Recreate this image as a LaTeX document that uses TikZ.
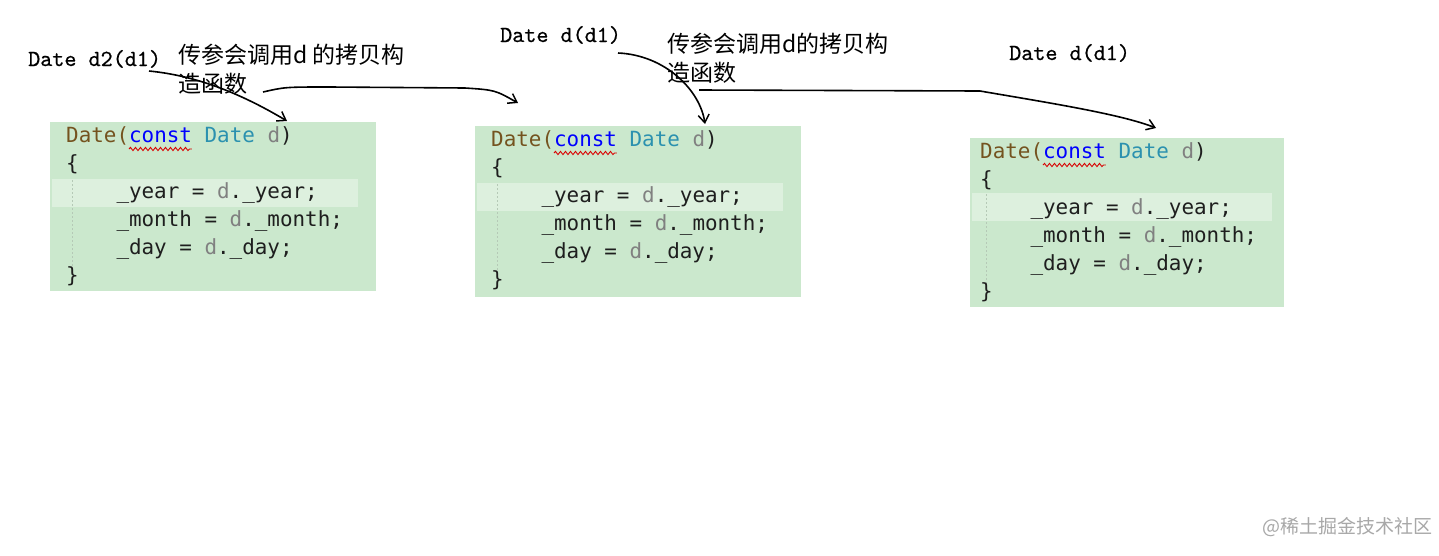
\documentclass[tikz,border=0pt]{standalone}
\usepackage{fontspec}
\newfontfamily\cjk{Noto Sans CJK SC}
\newfontfamily\codefont{DejaVu Sans Mono}
\newfontfamily\labfont[FakeBold=0.6]{lmmono10-regular.otf}
\usetikzlibrary{arrows.meta,decorations.pathmorphing}
\definecolor{codebg}{HTML}{CBE8CD}
\definecolor{codehl}{HTML}{DDF0DE}
\definecolor{cfn}{HTML}{74531F}
\definecolor{ckw}{HTML}{0000FF}
\definecolor{cty}{HTML}{2B91AF}
\definecolor{cprm}{HTML}{808080}
\definecolor{ctext}{HTML}{1E1E1E}
\definecolor{guidegray}{HTML}{B5C9B6}
\definecolor{wmgray}{HTML}{A8A8A8}
\newcommand\codebox[8]{%
\begin{scope}[shift={(#2,#3)}]
\fill[codebg] (0,0) rectangle (#4,#5);
\fill[codehl] (2,#6) rectangle (#7,#6+28);
\draw[guide] (#8+6,#6+1) -- (#8+6,150);
\node[code] (#1-l1) at (#8,20) {\textcolor{cfn}{Date(}\textcolor{ckw}{const} \textcolor{cty}{Date} \textcolor{cprm}{d})};
\draw[squiggle] ([xshift=62.9pt,yshift=-7pt]#1-l1.base west) -- ([xshift=125.8pt,yshift=-7pt]#1-l1.base west);
\node[code] (#1-l2) at (#8,48) {\{};
\node[code] (#1-l3) at (#8+50.3,76) {\_year = \textcolor{cprm}{d}.\_year;};
\node[code] (#1-l4) at (#8+50.3,104) {\_month = \textcolor{cprm}{d}.\_month;};
\node[code] (#1-l5) at (#8+50.3,132) {\_day = \textcolor{cprm}{d}.\_day;};
\node[code] (#1-l6) at (#8,160) {\}};
\end{scope}}
\begin{document}
\begin{tikzpicture}[x=1pt,y=-1pt,
  code/.style={anchor=base west,inner sep=0pt,text=ctext,font=\codefont\fontsize{20.9}{25}\selectfont},
  squiggle/.style={draw=red!85!black,line width=0.9pt,decorate,decoration={snake,amplitude=1.6pt,segment length=5pt}},
  guide/.style={draw=guidegray,line width=0.8pt,dash pattern=on 2pt off 2pt},
  lab/.style={anchor=base west,inner sep=0pt,font=\labfont\fontsize{23}{27}\selectfont},
  cnlab/.style={anchor=base west,inner sep=0pt,font=\cjk\fontsize{23}{27}\selectfont},
  hand/.style={line width=1.6pt,black,-{Straight Barb[length=8pt,width=11pt,line width=1.5pt]}}]
\useasboundingbox (0,0) rectangle (1439,555);
\fill[white] (0,0) rectangle (1439,555);

\codebox{b1}{50}{122}{326}{169}{57}{308}{16}
\codebox{b2}{475}{126}{326}{171}{57}{308}{16}
\codebox{b3}{970}{138}{314}{169}{55}{302}{10}

\node[lab] (lab1) at (28,66) {Date d2(d1)};
\node[cnlab] (cn1a) at (178,63) {传参会调用d 的拷贝构};
\node[cnlab] (cn1b) at (178,92) {造函数};
\node[lab] (lab2) at (500,42) {Date d(d1)};
\node[cnlab] (cn2a) at (667,52) {传参会调用d的拷贝构};
\node[cnlab] (cn2b) at (667,81) {造函数};
\node[lab] (lab3) at (1009,60) {Date d(d1)};
\node[anchor=west,inner sep=0pt,text=wmgray,font=\cjk\fontsize{19}{22}\selectfont] (wm) at (1262,527) {@稀土掘金技术社区};

\coordinate (s1) at (149,71);
\coordinate (e1) at (287,121);
\coordinate (s2) at (263,92);
\coordinate (e2) at (518,103);
\coordinate (s3) at (618,53);
\coordinate (e3) at (705,124);
\coordinate (s4) at (699,90);
\coordinate (e4) at (1156,128);

\draw[hand] (s1) .. controls (200,76) and (245,96) .. (e1);
\draw[hand] (s2) .. controls (285,87) .. (330,87) -- (465,88) .. controls (495,90) .. (e2);
\draw[hand] (s3) .. controls (665,55) and (700,90) .. (e3);
\draw[hand] (s4) -- (980,91) .. controls (1050,103) and (1120,114) .. (e4);
\end{tikzpicture}
\end{document}
